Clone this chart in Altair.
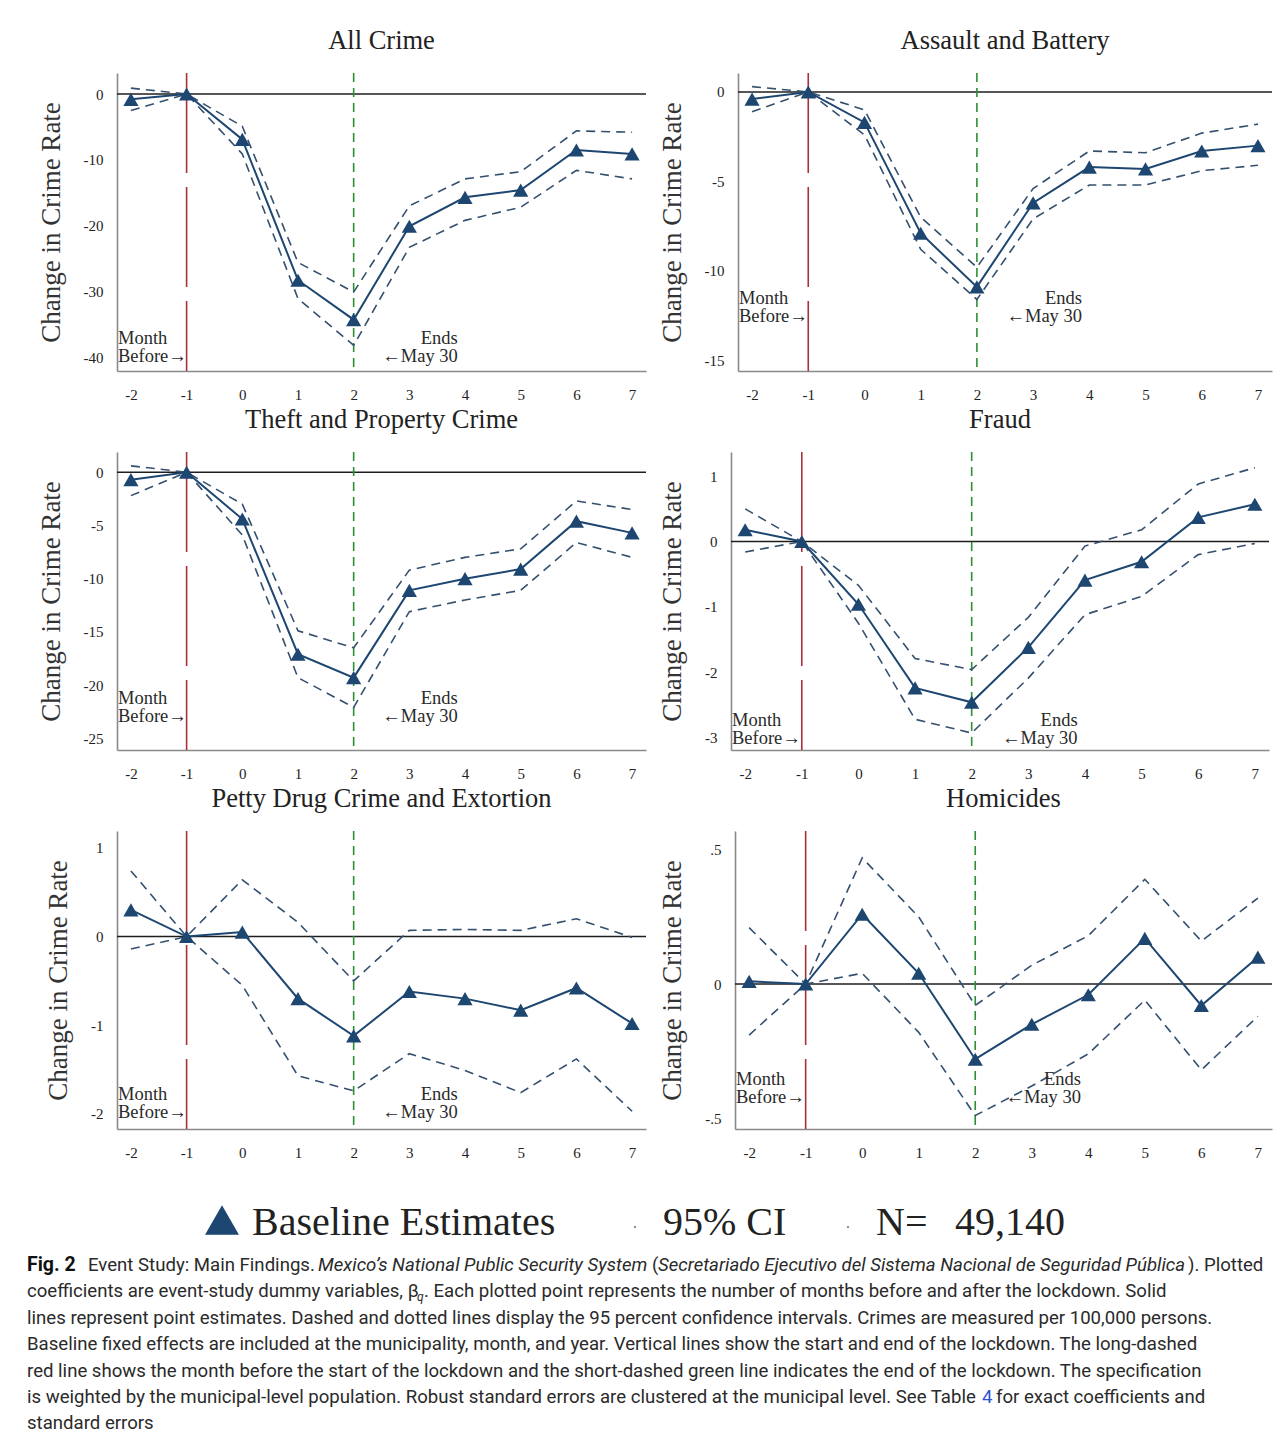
import altair as alt
import pandas as pd

# ---------------- data ----------------
months = [-2, -1, 0, 1, 2, 3, 4, 5, 6, 7]

titles = ["All Crime", "Assault and Battery", "Theft and Property Crime",
          "Fraud", "Petty Drug Crime and Extortion", "Homicides"]

all_est = [-0.8, 0, -6.9, -28.3, -34.3, -20.1, -15.7, -14.6, -8.5, -9.1]
all_hi = [0.9, 0, -4.9, -25.6, -30.1, -17.0, -12.9, -11.8, -5.6, -5.8]
all_lo = [-2.5, 0, -9.1, -31.1, -38.2, -23.3, -19.2, -17.2, -11.6, -12.9]

assault_est = [-0.4, 0, -1.7, -7.9, -10.9, -6.2, -4.2, -4.3, -3.3, -3.0]
assault_hi = [0.3, 0, -1.0, -7.0, -9.8, -5.4, -3.3, -3.4, -2.3, -1.8]
assault_lo = [-1.1, 0, -2.4, -8.8, -11.6, -7.1, -5.2, -5.2, -4.4, -4.1]

theft_est = [-0.7, 0, -4.4, -17.1, -19.3, -11.1, -10.0, -9.1, -4.6, -5.7]
theft_hi = [0.6, 0, -3.0, -14.9, -16.5, -9.2, -8.0, -7.2, -2.7, -3.5]
theft_lo = [-2.2, 0, -5.9, -19.3, -22.1, -13.1, -12.0, -11.1, -6.6, -8.0]

fraud_est = [0.18, 0, -0.96, -2.24, -2.46, -1.62, -0.59, -0.31, 0.37, 0.57]
fraud_hi = [0.50, 0, -0.67, -1.79, -1.96, -1.16, -0.07, 0.18, 0.88, 1.13]
fraud_lo = [-0.16, 0, -1.25, -2.72, -2.93, -2.09, -1.12, -0.84, -0.20, -0.03]

drug_est = [0.30, 0, 0.05, -0.70, -1.12, -0.62, -0.70, -0.83, -0.58, -0.98]
drug_hi = [0.74, 0, 0.64, 0.16, -0.50, 0.07, 0.08, 0.07, 0.20, -0.01]
drug_lo = [-0.14, 0, -0.55, -1.57, -1.74, -1.32, -1.51, -1.76, -1.38, -1.97]

hom_est = [0.01, 0, 0.26, 0.04, -0.28, -0.15, -0.04, 0.17, -0.08, 0.10]
hom_hi = [0.21, 0, 0.47, 0.25, -0.08, 0.07, 0.18, 0.39, 0.16, 0.32]
hom_lo = [-0.19, 0, 0.04, -0.18, -0.49, -0.38, -0.26, -0.06, -0.32, -0.12]

y_domains = [[-42.1, 3.2], [-15.6, 1.06], [-26.1, 1.9],
             [-3.19, 1.37], [-2.17, 1.19], [-0.54, 0.57]]
y_ticks = [[0, -10, -20, -30, -40], [0, -5, -10, -15], [0, -5, -10, -15, -20, -25],
           [1, 0, -1, -2, -3], [1, 0, -1, -2], [0.5, 0, -0.5]]
# vertical placement (data units) of the "Month / Before" and "Ends / May 30" notes
note_y_top = [-37.1, -11.5, -21.2, -2.73, -1.78, -0.352]
note_y_bot = [-39.8, -12.5, -22.9, -3.0, -1.98, -0.422]

legend_labels = ["Baseline Estimates", "95% CI", "N=", "49,140"]

caption_regular = [
    "Event Study: Main Findings.",
    "coefficients are event-study dummy variables, \u03b2",
    ". Each plotted point represents the number of months before and after the lockdown. Solid",
    "lines represent point estimates. Dashed and dotted lines display the 95 percent confidence intervals. Crimes are measured per 100,000 persons.",
    "Baseline fixed effects are included at the municipality, month, and year. Vertical lines show the start and end of the lockdown. The long-dashed",
    "red line shows the month before the start of the lockdown and the short-dashed green line indicates the end of the lockdown. The specification",
    "is weighted by the municipal-level population. Robust standard errors are clustered at the municipal level. See Table",
    "for exact coefficients and",
    "standard errors",
    "(",
    "). Plotted",
]
caption_italic = ["Mexico\u2019s National Public Security System",
                  "Secretariado Ejecutivo del Sistema Nacional de Seguridad P\u00fablica"]

SERIF = "Liberation Serif"
NAVY = "#1d4670"
CI_COL = "#34506e"
RED = "#a8303a"
GREEN = "#2c8f34"
TXT = "#2a2a2a"


def panel(i, est, hi, lo, width):
    df = pd.DataFrame({"month": months, "est": est, "hi": hi, "lo": lo})
    ci = df.melt(id_vars="month", value_vars=["hi", "lo"], var_name="bound", value_name="val")
    xs = alt.Scale(domain=[-2.25, 7.25], nice=False, zero=False)
    ys = alt.Scale(domain=y_domains[i], nice=False, zero=False)
    if i == 5:
        lab = "replace(toString(datum.value), '0.', '.')"
    else:
        lab = "toString(datum.value)"
    xax = alt.Axis(values=months, title=None, labelFontSize=15, labelPadding=16,
                   labelExpr="toString(datum.value)")
    yax = alt.Axis(values=y_ticks[i], title="Change in Crime Rate", labelExpr=lab,
                   labelFontSize=15, labelPadding=14, titleFontSize=27,
                   titlePadding=18, titleFont=SERIF, titleFontWeight="normal",
                   titleColor="#333")
    X = alt.X("month:Q", scale=xs, axis=xax)

    zero = alt.Chart(df).mark_rule(color="#1e1e1e", strokeWidth=1.6).encode(
        y=alt.Y("d0:Q", scale=ys, axis=yax)).transform_calculate(d0="0").transform_filter(
        "datum.month == -2")
    red = alt.Chart(df).mark_rule(color=RED, strokeWidth=1.6, strokeDash=[100, 14]).encode(
        x=alt.X("m:Q", scale=xs, axis=xax)).transform_calculate(m="-1").transform_filter(
        "datum.month == -2")
    green = alt.Chart(df).mark_rule(color=GREEN, strokeWidth=1.6, strokeDash=[9, 6]).encode(
        x=alt.X("m:Q", scale=xs, axis=xax)).transform_calculate(m="2").transform_filter(
        "datum.month == -2")
    ci_lines = alt.Chart(ci).mark_line(color=CI_COL, strokeWidth=1.6, strokeDash=[9, 6]).encode(
        x=X, y=alt.Y("val:Q", scale=ys, axis=yax), detail="bound:N")
    est_line = alt.Chart(df).mark_line(color=NAVY, strokeWidth=2).encode(
        x=X, y=alt.Y("est:Q", scale=ys, axis=yax))
    pts = alt.Chart(df).mark_point(shape="triangle-up", filled=True, opacity=1,
                                   color=NAVY, size=230).encode(
        x=X, y=alt.Y("est:Q", scale=ys, axis=yax))

    notes = pd.DataFrame({
        "t": ["Month", "Before\u2192", "Ends", "\u2190May 30"],
        "x": [-2.25, -2.25, 3.87, 3.87],
        "y": [note_y_top[i], note_y_bot[i], note_y_top[i], note_y_bot[i]],
        "a": ["left", "left", "right", "right"],
    })
    left_notes = alt.Chart(notes[notes.a == "left"]).mark_text(
        align="left", dx=1, font=SERIF, fontSize=18.5, color=TXT).encode(
        x=alt.X("x:Q", scale=xs, axis=xax), y=alt.Y("y:Q", scale=ys, axis=yax), text="t:N")
    right_notes = alt.Chart(notes[notes.a == "right"]).mark_text(
        align="right", font=SERIF, fontSize=18.5, color=TXT).encode(
        x=alt.X("x:Q", scale=xs, axis=xax), y=alt.Y("y:Q", scale=ys, axis=yax), text="t:N")

    return alt.layer(zero, red, green, ci_lines, est_line, pts, left_notes, right_notes).properties(
        width=width, height=298,
        title=alt.TitleParams(titles[i], font=SERIF, fontSize=26.5, fontWeight="normal",
                              color="#222", anchor="middle", frame="group", offset=18))


p1 = panel(0, all_est, all_hi, all_lo, 529)
p2 = panel(1, assault_est, assault_hi, assault_lo, 534)
p3 = panel(2, theft_est, theft_hi, theft_lo, 529)
p4 = panel(3, fraud_est, fraud_hi, fraud_lo, 538)
p5 = panel(4, drug_est, drug_hi, drug_lo, 529)
p6 = panel(5, hom_est, hom_hi, hom_lo, 537)

row1 = alt.hconcat(p1, p2, spacing=11)
row2 = alt.hconcat(p3, p4, spacing=11)
row3 = alt.hconcat(p5, p6, spacing=11)

# ---------------- footer: legend + caption (x relative to the panels' left edge) ----------------
FW, FH = 1140, 268
fx = alt.Scale(domain=[0, FW], range=[0, FW])
fy = alt.Scale(domain=[0, FH], range=[0, FH])
LEG_Y = 59
L0, LS = 101, 26.4

leg_df = pd.DataFrame({"t": legend_labels, "x": [135, 546, 759, 838], "y": [LEG_Y] * 4})
leg_sym = pd.DataFrame({"x": [105], "y": [LEG_Y - 3]})
leg_dot = pd.DataFrame({"x": [518, 731], "y": [LEG_Y + 4, LEG_Y + 4]})

reg_df = pd.DataFrame({
    "t": caption_regular,
    "x": [-29, -90, 307, -90, -90, -90, -90, 879, -90, 535, 1071],
    "y": [L0, L0 + LS, L0 + LS, L0 + 2 * LS, L0 + 3 * LS, L0 + 4 * LS, L0 + 5 * LS,
          L0 + 5 * LS, L0 + 6 * LS, L0, L0],
})
ita_df = pd.DataFrame({"t": caption_italic, "x": [201, 541], "y": [L0, L0]})
bold_df = pd.DataFrame({"t": ["Fig. 2"], "x": [-90], "y": [L0]})
blue_df = pd.DataFrame({"t": ["4"], "x": [865], "y": [L0 + 5 * LS]})
sub_df = pd.DataFrame({"t": ["q"], "x": [300], "y": [L0 + LS + 6]})

FX = alt.X("x:Q", scale=fx, axis=None)
FY = alt.Y("y:Q", scale=fy, axis=None)
CAP_FONT = "Roboto"
CAP_SIZE = 18.6

f_sym = alt.Chart(leg_sym).mark_point(shape="triangle-up", filled=True, opacity=1,
                                      color=NAVY, size=1150).encode(x=FX, y=FY)
f_dot = alt.Chart(leg_dot).mark_point(shape="circle", filled=True, opacity=1,
                                      color="#777", size=5).encode(x=FX, y=FY)
f_leg = alt.Chart(leg_df).mark_text(align="left", baseline="middle", font=SERIF,
                                    fontSize=40, color="#222").encode(x=FX, y=FY, text="t:N")
f_reg = alt.Chart(reg_df).mark_text(align="left", baseline="middle", font=CAP_FONT,
                                    fontSize=CAP_SIZE, color=TXT).encode(x=FX, y=FY, text="t:N")
f_ita = alt.Chart(ita_df).mark_text(align="left", baseline="middle", font=CAP_FONT,
                                    fontSize=CAP_SIZE, fontStyle="italic", color=TXT).encode(
    x=FX, y=FY, text="t:N")
f_bold = alt.Chart(bold_df).mark_text(align="left", baseline="middle", font=CAP_FONT,
                                      fontSize=19.5, fontWeight="bold", color="#111").encode(
    x=FX, y=FY, text="t:N")
f_blue = alt.Chart(blue_df).mark_text(align="left", baseline="middle", font=CAP_FONT,
                                      fontSize=CAP_SIZE, color="#2b54d6").encode(x=FX, y=FY, text="t:N")
f_sub = alt.Chart(sub_df).mark_text(align="left", baseline="middle", font=CAP_FONT,
                                    fontSize=12, fontStyle="italic", color=TXT).encode(
    x=FX, y=FY, text="t:N")

footer = alt.layer(f_sym, f_dot, f_leg, f_reg, f_ita, f_bold, f_blue, f_sub).properties(
    width=FW, height=FH)

chart = alt.vconcat(row1, row2, row3, footer, spacing=4).properties(
    padding={"left": 27, "top": 27, "right": 2, "bottom": 2}
).configure_view(stroke=None).configure_axis(
    grid=False, ticks=False, domainColor="#8a8a8a", domainWidth=1.6,
    labelFont=SERIF, labelColor="#222"
)

chart.save("out.html", embed_options={"renderer": "svg", "actions": False})
